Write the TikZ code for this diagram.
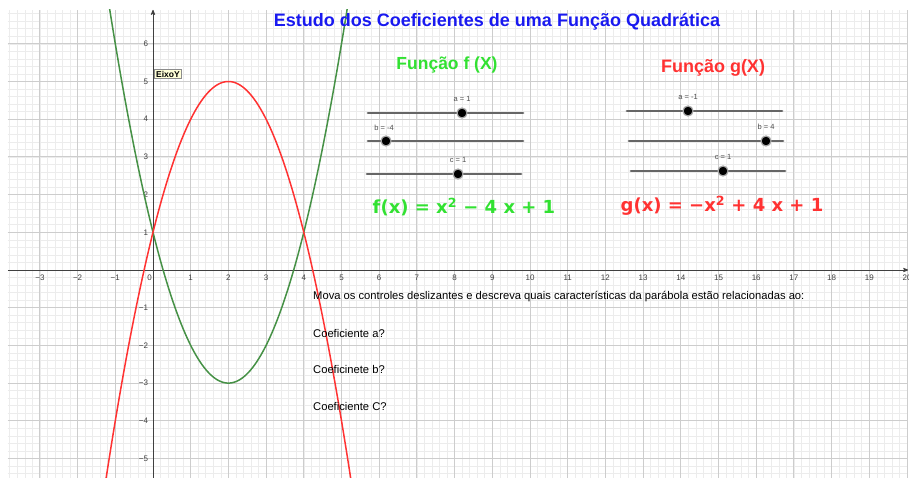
\documentclass[tikz,border=0pt]{standalone}
\usepackage{fontspec}
\setmainfont{Liberation Sans}
\newfontfamily\formulafont{DejaVu Sans}
\usetikzlibrary{arrows}

\definecolor{titleblue}{RGB}{25,25,240}
\definecolor{fcurve}{RGB}{70,145,70}
\definecolor{ftext}{RGB}{50,225,50}
\definecolor{gred}{RGB}{255,50,50}
\definecolor{majorgrid}{RGB}{205,205,205}
\definecolor{minorgrid}{RGB}{236,236,236}
\definecolor{tipbox}{RGB}{255,255,215}

\newcommand{\ticklab}[1]{\ifnum#1<0 −\the\numexpr-#1\relax\else#1\fi}

\begin{document}
\begin{tikzpicture}[x=1pt,y=-1pt]

\tikzset{tick/.style = {font=\fontsize{8}{8}\selectfont, text=black!75, inner sep=1pt}}
\tikzset{slider/.style = {line width=2.8pt, black!60, line cap=round}}
\tikzset{knob/.style = {shape=circle, fill=black, draw=black!35, line width=1.2pt, minimum size=10pt, inner sep=0pt}}
\tikzset{val/.style = {font=\fontsize{7.5}{8}\selectfont, text=black!70, inner sep=0pt}}
\tikzset{question/.style = {anchor=west, font=\fontsize{11.2}{12}\selectfont, inner sep=0pt}}
\tikzset{formula/.style = {font=\formulafont\bfseries\fontsize{18}{20}\selectfont}}

\useasboundingbox (0,0) rectangle (910,478);
\fill[white] (0,0) rectangle (910,478);

%grid, axes and curves
\begin{scope}[shift={(153,270)}, x=37.7pt, y=37.7pt]
\clip (-3.85,-5.52) rectangle (20.03,6.9);
\draw[minorgrid, line width=0.6pt, step=0.2] (-3.85,-5.52) grid (20.03,6.9);
\draw[majorgrid, line width=0.9pt, step=1] (-3.85,-5.52) grid (20.03,6.9);
\coordinate (xmin) at (-3.85,0);
\coordinate (xmax) at (20.03,0);
\coordinate (ymin) at (0,-5.52);
\coordinate (ymax) at (0,6.9);
\draw[black!75, line width=0.8pt, ->, >=stealth'] (xmin) -- (xmax);
\draw[black!75, line width=0.8pt, ->, >=stealth'] (ymin) -- (ymax);
\foreach \i in {-3,...,-1,1,2,...,20}
  \node[tick, anchor=north] (xt\i) at (\i,-0.1) {\ticklab{\i}};
\foreach \i in {-5,...,-1,1,2,...,6}
  \node[tick, anchor=east] (yt\i) at (-0.1,\i) {\ticklab{\i}};
\node[tick, anchor=north east] (o) at (0,-0.1) {0};
\draw[fcurve, line width=1.5pt, domain=-1.3:5.3, samples=120] plot (\x, {\x*\x-4*\x+1});
\draw[gred, line width=1.5pt, domain=-1.4:5.4, samples=120] plot (\x, {-\x*\x+4*\x+1});
\end{scope}

%labels
\node[draw=black!45, fill=tipbox, font=\bfseries\fontsize{8.5}{9}\selectfont, inner sep=1.5pt] (eixo) at (168,74) {EixoY};
\node[text=titleblue, font=\bfseries\fontsize{18}{20}\selectfont] (title) at (497,22) {Estudo dos Coeficientes de uma Função Quadrática};
\node[text=ftext, font=\bfseries\fontsize{17.5}{19}\selectfont] (ftitle) at (447,65) {Função f (X)};
\node[text=gred, font=\bfseries\fontsize{18}{20}\selectfont] (gtitle) at (713,68) {Função g(X)};

%sliders f
\draw[slider] (368,113) -- (523,113);
\draw[slider] (368,141) -- (523,141);
\draw[slider] (367,174) -- (521,174);
\node[knob] (fa) at (462,113) {};
\node[knob] (fb) at (386,141) {};
\node[knob] (fc) at (458,174) {};
\node[val] (fal) at (462,99) {a = 1};
\node[val] (fbl) at (384,128) {b = -4};
\node[val] (fcl) at (458,160) {c = 1};

%sliders g
\draw[slider] (627,111) -- (782,111);
\draw[slider] (629,141) -- (783,141);
\draw[slider] (631,171) -- (785,171);
\node[knob] (ga) at (688,111) {};
\node[knob] (gb) at (766,141) {};
\node[knob] (gc) at (723,171) {};
\node[val] (gal) at (688,97) {a = -1};
\node[val] (gbl) at (766,127) {b = 4};
\node[val] (gcl) at (723,157) {c = 1};

%formulas
\node[formula, text=ftext] (fx) at (464,207) {f(x) = x\textsuperscript{2} − 4 x + 1};
\node[formula, text=gred] (gx) at (722,206) {g(x) = −x\textsuperscript{2} + 4 x + 1};

%questions
\node[question] (q0) at (313,297) {Mova os controles deslizantes e descreva quais características da parábola estão relacionadas ao:};
\node[question] (q1) at (313,333) {Coeficiente a?};
\node[question] (q2) at (313,369) {Coeficinete b?};
\node[question] (q3) at (313,406) {Coeficiente C?};

\end{tikzpicture}
\end{document}
